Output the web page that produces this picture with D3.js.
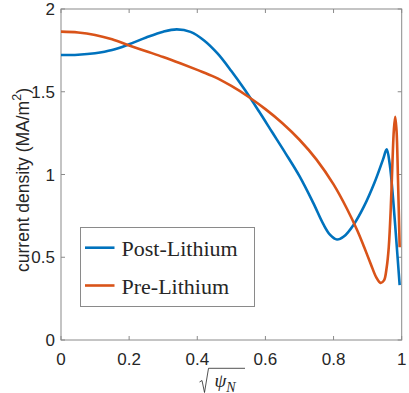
<!DOCTYPE html>
<html><head><meta charset="utf-8">
<script src="https://cdn.jsdelivr.net/npm/d3@7/dist/d3.min.js"></script>
<style>body{margin:0;background:#fff}svg{display:block}</style>
</head><body>
<svg id="c" width="409" height="393"></svg>
<script>
const seriesNames = ["Post-Lithium", "Pre-Lithium"];
const seriesColors = ["#0072BD", "#D95319"];
const postX = [0, 0.05, 0.1, 0.15, 0.2, 0.25, 0.3, 0.34, 0.38, 0.42, 0.46, 0.5, 0.54, 0.58, 0.62, 0.66, 0.7, 0.74, 0.77, 0.79, 0.81, 0.83, 0.86, 0.89, 0.92, 0.945, 0.956, 0.965, 0.975, 0.985, 0.994];
const postY = [1.722, 1.724, 1.733, 1.752, 1.787, 1.828, 1.863, 1.877, 1.862, 1.81, 1.73, 1.625, 1.51, 1.385, 1.255, 1.125, 0.99, 0.83, 0.70, 0.635, 0.607, 0.625, 0.70, 0.81, 0.95, 1.09, 1.152, 1.06, 0.846, 0.58, 0.332];
const preX = [0, 0.05, 0.1, 0.15, 0.2, 0.25, 0.3, 0.35, 0.4, 0.45, 0.5, 0.55, 0.6, 0.65, 0.7, 0.75, 0.8, 0.84, 0.87, 0.89, 0.91, 0.925, 0.938, 0.948, 0.956, 0.962, 0.968, 0.973, 0.977, 0.981, 0.985, 0.989, 0.994];
const preY = [1.863, 1.858, 1.843, 1.817, 1.78, 1.745, 1.71, 1.672, 1.632, 1.59, 1.535, 1.47, 1.395, 1.31, 1.21, 1.09, 0.94, 0.79, 0.66, 0.56, 0.455, 0.38, 0.345, 0.36, 0.44, 0.56, 0.80, 1.08, 1.27, 1.349, 1.26, 0.98, 0.56];
const xTicks = [0, 0.2, 0.4, 0.6, 0.8, 1];
const yTicks = [0, 0.5, 1, 1.5, 2];
const xTickLabels = ["0", "0.2", "0.4", "0.6", "0.8", "1"];
const yTickLabels = ["0", "0.5", "1", "1.5", "2"];
const yLabel = "current density (MA/m";

const svg = d3.select("#c");
const L = 61, R = 401.7, T = 9, B = 340;
const x = d3.scaleLinear().domain([0, 1]).range([L, R]);
const y = d3.scaleLinear().domain([0, 2]).range([B, T]);
const axisCol = "#8a8a8a", textCol = "#262626";
const tickFont = "Liberation Sans, Arial, sans-serif";

svg.append("rect").attr("x", L).attr("y", T).attr("width", R - L).attr("height", B - T)
  .attr("fill", "none").attr("stroke", axisCol).attr("stroke-width", 1);

const tl = 4;
xTicks.forEach(t => {
  svg.append("line").attr("x1", x(t)).attr("x2", x(t)).attr("y1", B).attr("y2", B - tl).attr("stroke", axisCol);
  svg.append("line").attr("x1", x(t)).attr("x2", x(t)).attr("y1", T).attr("y2", T + tl).attr("stroke", axisCol);
});
yTicks.forEach(t => {
  svg.append("line").attr("x1", L).attr("x2", L + tl).attr("y1", y(t)).attr("y2", y(t)).attr("stroke", axisCol);
  svg.append("line").attr("x1", R).attr("x2", R - tl).attr("y1", y(t)).attr("y2", y(t)).attr("stroke", axisCol);
});
svg.append("g").selectAll("text").data(xTicks).join("text")
  .attr("x", d => x(d)).attr("y", 364.5).attr("text-anchor", "middle")
  .attr("font-family", tickFont).attr("font-size", 17).attr("fill", textCol)
  .text((d, i) => xTickLabels[i]);
svg.append("g").selectAll("text").data(yTicks).join("text")
  .attr("x", 55).attr("y", d => y(d) + 6).attr("text-anchor", "end")
  .attr("font-family", tickFont).attr("font-size", 17).attr("fill", textCol)
  .text((d, i) => yTickLabels[i]);

const yl = svg.append("text").attr("transform", "translate(28.5,180) rotate(-90)")
  .attr("text-anchor", "middle").attr("font-family", tickFont).attr("font-size", 17.5).attr("fill", textCol);
yl.append("tspan").text(yLabel);
yl.append("tspan").attr("dy", -7.5).attr("font-size", 12.5).text("2");
yl.append("tspan").attr("dy", 7.5).text(")");

svg.append("path").attr("d", "M199.5,382 L202,380.5 L204.5,392.5 L208.5,368.3 L245,368.3")
  .attr("fill", "none").attr("stroke", textCol).attr("stroke-width", 0.8);
const xl = svg.append("text").attr("x", 214.5).attr("y", 386.5)
  .attr("font-family", "Liberation Serif, Times New Roman, serif").attr("font-style", "italic")
  .attr("font-size", 19).attr("fill", textCol);
xl.append("tspan").text("ψ");
xl.append("tspan").attr("dy", 5).attr("font-size", 14).text("N");

const series = [postX.map((d, i) => [d, postY[i]]), preX.map((d, i) => [d, preY[i]])];
const line = d3.line().x(d => x(d[0])).y(d => y(d[1])).curve(d3.curveCatmullRom.alpha(0.5));
series.forEach((s, i) => {
  svg.append("path").attr("d", line(s)).attr("fill", "none")
    .attr("stroke", seriesColors[i]).attr("stroke-width", 2.6).attr("stroke-linejoin", "round");
});

svg.append("rect").attr("x", 80.5).attr("y", 227.5).attr("width", 174).attr("height", 79)
  .attr("fill", "#fff").attr("stroke", axisCol).attr("stroke-width", 1);
const legY = [247.7, 285.5];
seriesNames.forEach((n, i) => {
  svg.append("line").attr("x1", 85).attr("x2", 114.5).attr("y1", legY[i]).attr("y2", legY[i])
    .attr("stroke", seriesColors[i]).attr("stroke-width", 2.6);
  svg.append("text").attr("x", 121.5).attr("y", legY[i] + 8.5)
    .attr("font-family", "Liberation Serif, Times New Roman, serif").attr("font-size", 22)
    .attr("fill", textCol).text(n);
});
</script>
</body></html>
